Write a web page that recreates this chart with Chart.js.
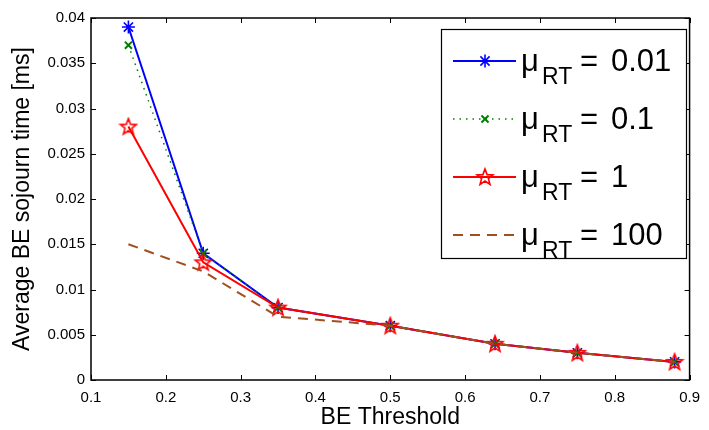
<!DOCTYPE html>
<html>
<head>
<meta charset="utf-8">
<script src="https://cdn.jsdelivr.net/npm/chart.js@4"></script>
<style>
  html, body { margin: 0; padding: 0; background: #fff; }
  #wrap { width: 709px; height: 430px; }
</style>
</head>
<body>
<div id="wrap"><canvas id="chart" width="709" height="430"></canvas></div>
<script>
// BE threshold values (x axis)
const thresholds = [0.15, 0.25, 0.35, 0.5, 0.64, 0.75, 0.88];
// average BE sojourn time [ms] per mu_RT
const mu001 = [0.039, 0.014, 0.008, 0.006, 0.004, 0.003, 0.002];
const mu01 = [0.037, 0.014, 0.008, 0.006, 0.004, 0.003, 0.002];
const mu1 = [0.028, 0.013, 0.008, 0.006, 0.004, 0.003, 0.002];
const mu100 = [0.015, 0.012, 0.007, 0.006, 0.004, 0.003, 0.002];
const legendValues = ["0.01", "0.1", "1", "100"];

const FONT = "'Liberation Sans', Arial, sans-serif";

// open pentagram marker for the red series
function pentagram(size, color) {
  const c = document.createElement("canvas");
  c.width = size; c.height = size;
  const g = c.getContext("2d");
  const cx = size / 2, cy = size / 2 + 0.5, ro = size / 2 - 1.5, ri = ro * 0.42;
  g.beginPath();
  for (let i = 0; i < 10; i++) {
    const r = i % 2 ? ri : ro;
    const a = -Math.PI / 2 + i * Math.PI / 5;
    g.lineTo(cx + r * Math.cos(a), cy + r * Math.sin(a));
  }
  g.closePath();
  g.strokeStyle = color;
  g.lineWidth = 1.6;
  g.stroke();
  return c;
}
const starImg = pentagram(20, "#ff0000");

const pts = (ys) => thresholds.map((x, i) => ({ x, y: ys[i] }));

const datasets = [
  { label: "0.01", data: pts(mu001), borderColor: "#0000ff", backgroundColor: "#0000ff",
    borderWidth: 2, pointStyle: "star", pointRadius: 6.5, pointBorderWidth: 1.6, order: 4 },
  { label: "0.1", data: pts(mu01), borderColor: "#008000", backgroundColor: "#008000",
    borderWidth: 1.5, borderDash: [1.5, 5], pointStyle: "crossRot", pointRadius: 5, pointBorderWidth: 2, order: 3 },
  { label: "1", data: pts(mu1), borderColor: "#ff0000", backgroundColor: "#ff0000",
    borderWidth: 2, pointStyle: starImg, pointRadius: 10, order: 2 },
  { label: "100", data: pts(mu100), borderColor: "#a0501e", backgroundColor: "#a0501e",
    borderWidth: 2, borderDash: [10, 7], pointRadius: 0, order: 1 },
];

// MATLAB-like box with inward ticks on all four sides
const boxTicks = {
  id: "boxTicks",
  afterDatasetsDraw(chart) {
    const { ctx, chartArea: a, scales } = chart;
    ctx.save();
    ctx.strokeStyle = "#000";
    ctx.lineWidth = 1;
    const L = 5;
    scales.x.ticks.forEach((t, i) => {
      const px = Math.round(scales.x.getPixelForTick(i)) + 0.5;
      ctx.beginPath();
      ctx.moveTo(px, a.bottom); ctx.lineTo(px, a.bottom - L);
      ctx.moveTo(px, a.top); ctx.lineTo(px, a.top + L);
      ctx.stroke();
    });
    scales.y.ticks.forEach((t, i) => {
      const py = Math.round(scales.y.getPixelForTick(i)) + 0.5;
      ctx.beginPath();
      ctx.moveTo(a.left, py); ctx.lineTo(a.left + L, py);
      ctx.moveTo(a.right, py); ctx.lineTo(a.right - L, py);
      ctx.stroke();
    });
    ctx.lineWidth = 1.5;
    ctx.strokeRect(a.left, a.top, a.right - a.left, a.bottom - a.top);
    ctx.restore();
  },
};

// legend with subscript mu_RT labels
const subLegend = {
  id: "subLegend",
  afterDraw(chart) {
    const { ctx } = chart;
    const bx = 441, by = 29, bw = 245, bh = 229;
    ctx.save();
    ctx.fillStyle = "#fff";
    ctx.fillRect(bx, by, bw, bh);
    ctx.strokeStyle = "#000";
    ctx.lineWidth = 1.2;
    ctx.strokeRect(bx + 0.5, by + 0.5, bw, bh);
    const rows = [61, 119, 177, 235];
    chart.data.datasets.forEach((ds, i) => {
      const y = rows[i];
      ctx.save();
      ctx.strokeStyle = ds.borderColor;
      ctx.lineWidth = ds.borderWidth;
      ctx.setLineDash(ds.borderDash || []);
      ctx.beginPath();
      ctx.moveTo(453, y); ctx.lineTo(516, y);
      ctx.stroke();
      ctx.restore();
      if (ds.pointRadius > 0) {
        ctx.strokeStyle = ds.borderColor;
        ctx.fillStyle = ds.backgroundColor;
        ctx.lineWidth = ds.pointBorderWidth || 1;
        Chart.helpers.drawPoint(ctx, {
          pointStyle: ds.pointStyle, radius: ds.pointRadius, rotation: 0,
          borderWidth: ds.pointBorderWidth || 1,
        }, 485, y);
      }
      ctx.fillStyle = "#000";
      ctx.textBaseline = "alphabetic";
      ctx.textAlign = "left";
      ctx.font = "31px " + FONT;
      ctx.fillText("\u03bc", 521, y + 10);
      ctx.font = "23px " + FONT;
      ctx.fillText("RT", 542, y + 23);
      ctx.font = "31px " + FONT;
      ctx.fillText("=", 580, y + 10);
      ctx.fillText(legendValues[i], 611, y + 10);
    });
    ctx.restore();
  },
};

new Chart(document.getElementById("chart"), {
  type: "line",
  data: { datasets },
  plugins: [boxTicks, subLegend],
  options: {
    responsive: false,
    animation: false,
    devicePixelRatio: 1,
    layout: { padding: { top: 18, right: 14, left: 0, bottom: 0 } },
    plugins: { legend: { display: false }, tooltip: { enabled: false } },
    elements: { line: { tension: 0 } },
    scales: {
      x: {
        type: "linear", min: 0.1, max: 0.9,
        grid: { display: false, drawTicks: false },
        border: { display: false },
        ticks: { stepSize: 0.1, color: "#000", padding: 9, font: { family: FONT, size: 15 },
          callback: (v) => v.toFixed(1) },
        title: { display: true, text: "BE Threshold", color: "#000", padding: { top: 0, bottom: 0 },
          font: { family: FONT, size: 23, lineHeight: 1.1 } },
        afterFit: (s) => { s.height = 50; },
      },
      y: {
        min: 0, max: 0.04,
        grid: { display: false, drawTicks: false },
        border: { display: false },
        ticks: { stepSize: 0.005, color: "#000", padding: 6, font: { family: FONT, size: 15 },
          callback: (v) => (v === 0 ? "0" : String(Number(v.toFixed(3)))) },
        title: { display: true, text: "Average BE sojourn time [ms]", color: "#000", padding: { top: 10, bottom: 0 },
          font: { family: FONT, size: 23, lineHeight: 1.1 } },
        afterFit: (s) => { s.width = 91; },
      },
    },
  },
});
</script>
</body>
</html>
